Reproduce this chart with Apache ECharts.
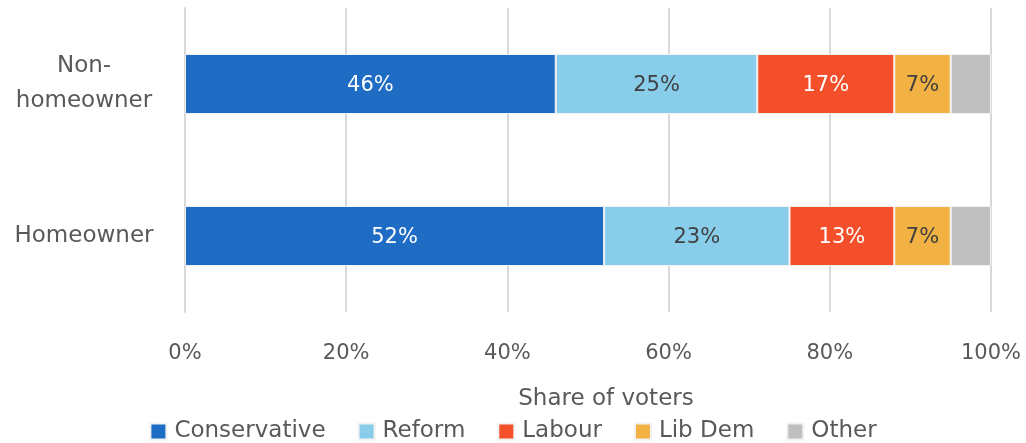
<!DOCTYPE html>
<html><head><meta charset="utf-8">
<script src="https://cdn.jsdelivr.net/npm/echarts@6/dist/echarts.min.js"></script>
<style>html,body{margin:0;padding:0;background:#fff}#c{width:1026px;height:443px}</style>
</head><body><div id="c"></div>
<script>
const categories = ['Homeowner', 'Non-\nhomeowner'];
const seriesNames = ['Conservative', 'Reform', 'Labour', 'Lib Dem', 'Other'];
const conservative = [52, 46];
const reform = [23, 25];
const labour = [13, 17];
const libDem = [7, 7];
const other = [5, 5];
const xTicks = [0, 20, 40, 60, 80, 100];

const values = [conservative, reform, labour, libDem, other];
const colors = ['#1F6CC4', '#88CEEB', '#F44F2B', '#F1B243', '#BFBFBF'];
const labelColors = ['#ffffff', '#404040', '#ffffff', '#404040', null];
const FONT = 'DejaVu Sans';

const chart = echarts.init(document.getElementById('c'));
chart.setOption({
  animation: false,
  textStyle: { fontFamily: FONT },
  grid: { left: 185, right: 35, top: 8, bottom: 131, containLabel: false },
  legend: {
    top: 415, left: 'center',
    itemWidth: 16, itemHeight: 16, itemGap: 32,
    icon: 'rect',
    textStyle: { fontFamily: FONT, fontSize: 23, color: '#595959', padding: [0, 0, 0, 3] },
    data: seriesNames
  },
  xAxis: {
    type: 'value', min: 0, max: 100, interval: 20,
    name: 'Share of voters', nameLocation: 'middle', nameGap: 76,
    nameTextStyle: { fontFamily: FONT, fontSize: 23, color: '#595959', padding: [0, 0, 0, 36] },
    axisLine: { show: false }, axisTick: { show: false },
    axisLabel: { fontFamily: FONT, fontSize: 21, color: '#595959', margin: 31,
      formatter: v => xTicks.includes(v) ? v + '%' : '' },
    splitLine: { lineStyle: { color: '#D9D9D9', width: 2 } }
  },
  yAxis: {
    type: 'category', data: categories,
    axisLine: { show: true, lineStyle: { color: '#D9D9D9', width: 2 } },
    axisTick: { show: false },
    axisLabel: { fontFamily: FONT, fontSize: 23, color: '#595959', margin: 101, align: 'center',
      lineHeight: 35, overflow: 'none' }
  },
  series: seriesNames.map((n, i) => ({
    name: n, type: 'bar', stack: 'total', barWidth: 60,
    data: values[i],
    itemStyle: { color: colors[i], borderColor: '#F2F2F2', borderWidth: 1 },
    label: {
      show: labelColors[i] !== null, position: 'inside', offset: [0, 2],
      formatter: p => p.value + '%',
      color: labelColors[i] || '#404040', fontFamily: FONT, fontSize: 21
    }
  }))
});
</script></body></html>
